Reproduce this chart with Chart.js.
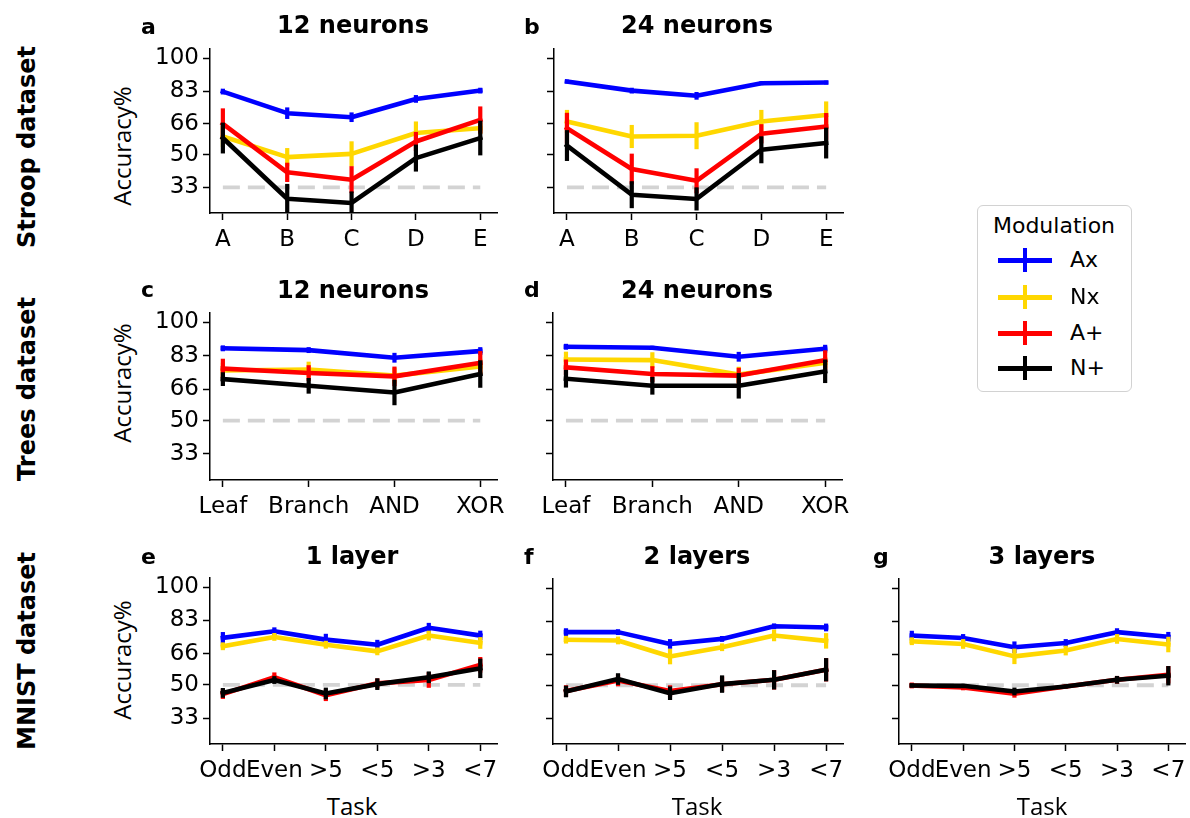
<!DOCTYPE html>
<html>
<head>
<meta charset="utf-8">
<script src="https://cdn.jsdelivr.net/npm/chart.js@4.4.1/dist/chart.umd.min.js"></script>
<style>
  html, body { margin: 0; padding: 0; background: #fff; width: 1190px; height: 818px; overflow: hidden; }
  #fig { position: relative; width: 1190px; height: 818px; }
  #fig canvas { position: absolute; }
  .txt { position: absolute; white-space: nowrap; line-height: 1; color: #000; }
  .c { transform: translate(-50%, -50%); }
  .l { transform: translate(0, -50%); }
  .rot { transform: translate(-50%, -50%) rotate(-90deg); }
  .row { font-family: "DejaVu Sans"; font-weight: bold; font-size: 24px; }
  .ylab, .xlab { font-family: "Open Sans"; font-size: 24px; }
  .title { font-family: "DejaVu Sans"; font-weight: bold; font-size: 24px; }
  .letter { font-family: "DejaVu Sans"; font-weight: bold; font-size: 22px; }
  #legend { position: absolute; left: 977px; top: 205px; width: 155px; height: 187px;
            border: 1.5px solid #d2d2d2; border-radius: 6px; box-sizing: border-box; background: #fff; }
  .leg { font-family: "DejaVu Sans"; font-size: 22px; }
  .sw { position: absolute; }
</style>
</head>
<body>
<div id="fig"></div>
<script>
// ---- categories and tick values ----
const stroopTasks = ['A', 'B', 'C', 'D', 'E'];
const treesTasks = ['Leaf', 'Branch', 'AND', 'XOR'];
const mnistTasks = ['Odd', 'Even', '>5', '<5', '>3', '<7'];
const accuracyTicks = [33, 50, 66, 83, 100];
const modulationNames = ['Ax', 'Nx', 'A+', 'N+'];
const modulationColors = ['#0000ff', '#ffd700', '#ff0000', '#000000'];

// ---- accuracy (%) per modulation: rows Ax, Nx, A+, N+ ----
const stroop12Mean = [
  [82.7, 71.5, 69.4, 78.9, 83.2],
  [59.4, 48.7, 50.4, 61.2, 63.7],
  [66.0, 40.8, 37.0, 56.8, 68.0],
  [58.6, 27.1, 24.9, 48.2, 58.6]
];
const stroop12Err = [
  [1.5, 3.0, 2.5, 2.0, 1.5],
  [5.5, 4.7, 6.5, 6.0, 3.0],
  [8.0, 5.0, 7.0, 5.0, 7.0],
  [8.0, 7.7, 6.0, 7.0, 9.0]
];
const stroop24Mean = [
  [87.9, 83.2, 80.5, 87.0, 87.4],
  [67.2, 59.4, 59.8, 67.2, 70.6],
  [63.7, 42.5, 36.4, 60.8, 64.6],
  [54.7, 29.2, 27.0, 52.5, 56.0]
];
const stroop24Err = [
  [1.0, 1.5, 2.0, 1.0, 1.0],
  [6.0, 6.0, 7.0, 6.0, 7.0],
  [8.0, 8.0, 6.5, 5.0, 7.0],
  [8.0, 7.0, 6.0, 7.0, 8.0]
];
const trees12Mean = [
  [86.8, 85.9, 82.0, 85.4],
  [75.5, 76.0, 72.9, 77.5],
  [76.5, 74.2, 72.5, 79.4],
  [71.1, 67.7, 64.3, 73.7]
];
const trees12Err = [
  [1.5, 1.5, 2.5, 2.0],
  [4.0, 4.0, 4.0, 4.0],
  [5.0, 4.0, 5.0, 6.0],
  [3.5, 4.0, 6.5, 7.0]
];
const trees24Mean = [
  [87.6, 87.1, 82.5, 86.6],
  [81.1, 80.8, 73.4, 79.4],
  [77.1, 73.7, 72.9, 80.8],
  [71.3, 67.7, 67.7, 75.1]
];
const trees24Err = [
  [1.5, 1.0, 2.5, 2.0],
  [4.0, 4.0, 4.0, 3.0],
  [4.0, 4.0, 4.0, 5.0],
  [4.5, 4.5, 6.5, 6.0]
];
const mnist1Mean = [
  [74.1, 77.5, 73.2, 70.6, 79.3, 75.3],
  [69.8, 74.6, 70.6, 67.2, 75.3, 71.5],
  [45.3, 53.9, 44.7, 50.8, 52.5, 60.3],
  [45.9, 52.5, 45.6, 50.4, 53.9, 58.5]
];
const mnist1Err = [
  [3.0, 2.0, 3.0, 2.5, 2.5, 2.5],
  [2.0, 2.0, 2.0, 2.0, 2.5, 3.0],
  [2.5, 2.5, 3.0, 2.5, 4.0, 4.0],
  [2.5, 2.0, 3.0, 3.0, 3.0, 5.0]
];
const mnist2Mean = [
  [77.4, 77.4, 71.3, 73.9, 80.4, 79.8],
  [73.5, 73.1, 64.8, 69.6, 75.7, 72.9],
  [47.0, 52.5, 47.0, 50.5, 52.8, 58.0],
  [46.8, 53.2, 45.9, 50.6, 52.8, 58.0]
];
const mnist2Err = [
  [2.0, 1.5, 2.5, 1.5, 1.5, 2.0],
  [2.0, 2.0, 4.0, 2.0, 3.0, 4.0],
  [3.0, 3.0, 3.0, 4.0, 5.0, 6.0],
  [3.0, 3.0, 3.5, 4.5, 5.0, 6.0]
];
const mnist3Mean = [
  [75.6, 74.4, 69.6, 71.8, 77.4, 75.0],
  [72.7, 71.3, 64.9, 67.9, 73.9, 71.0],
  [49.9, 48.9, 45.6, 49.4, 52.8, 55.4],
  [49.9, 49.7, 46.8, 49.4, 52.8, 54.9]
];
const mnist3Err = [
  [2.5, 2.0, 3.0, 2.0, 2.0, 2.5],
  [2.0, 2.5, 4.0, 2.5, 2.5, 4.0],
  [1.5, 1.5, 2.0, 1.0, 2.0, 4.5],
  [1.0, 1.0, 2.0, 1.0, 2.0, 5.0]
];

// chance level of each task family
const stroopChance = 33;
const treesChance = 50;
const mnistChance = 50;

// ---- layout ----
const Y_MIN = 19.7, Y_MAX = 104.8;
const YW = 60, XH = 44, PT = 14, PR = 26;

const panels = [
  { tasks: stroopTasks, mean: stroop12Mean, err: stroop12Err, chance: stroopChance, yLabels: true,  left: 210, right: 497, top: 49,  bottom: 213 },
  { tasks: stroopTasks, mean: stroop24Mean, err: stroop24Err, chance: stroopChance, yLabels: false, left: 554, right: 843, top: 49,  bottom: 213 },
  { tasks: treesTasks,  mean: trees12Mean,  err: trees12Err,  chance: treesChance,  yLabels: true,  left: 210, right: 497, top: 313, bottom: 480 },
  { tasks: treesTasks,  mean: trees24Mean,  err: trees24Err,  chance: treesChance,  yLabels: false, left: 553, right: 842, top: 313, bottom: 480 },
  { tasks: mnistTasks,  mean: mnist1Mean,   err: mnist1Err,   chance: mnistChance,  yLabels: true,  left: 210, right: 497, top: 578, bottom: 744 },
  { tasks: mnistTasks,  mean: mnist2Mean,   err: mnist2Err,   chance: mnistChance,  yLabels: false, left: 553, right: 843, top: 579, bottom: 744 },
  { tasks: mnistTasks,  mean: mnist3Mean,   err: mnist3Err,   chance: mnistChance,  yLabels: false, left: 899, right: 1185, top: 579, bottom: 744 }
];

// vertical error bars, drawn right after each series line
const errorBarPlugin = {
  id: 'errorBars',
  afterDatasetDraw(chart, args) {
    const ds = chart.data.datasets[args.index];
    if (!ds.errors) return;
    const { ctx, chartArea, scales } = chart;
    ctx.save();
    ctx.beginPath();
    ctx.rect(chartArea.left, chartArea.top - 2, chartArea.width + 2, chartArea.height + 2);
    ctx.clip();
    ctx.strokeStyle = ds.borderColor;
    ctx.lineWidth = 4.2;
    ctx.lineCap = 'butt';
    ds.data.forEach((p, i) => {
      const x = scales.x.getPixelForValue(p.x);
      ctx.beginPath();
      ctx.moveTo(x, scales.y.getPixelForValue(p.y - ds.errors[i]));
      ctx.lineTo(x, scales.y.getPixelForValue(p.y + ds.errors[i]));
      ctx.stroke();
    });
    ctx.restore();
  }
};

const fig = document.getElementById('fig');
const tickFont = { family: 'DejaVu Sans', size: 23 };

panels.forEach(p => {
  const n = p.tasks.length;
  const plotW = p.right - p.left;
  const plotH = p.bottom - p.top;
  const canvas = document.createElement('canvas');
  canvas.width = YW + plotW + PR;
  canvas.height = PT + plotH + XH;
  canvas.style.left = (p.left - YW) + 'px';
  canvas.style.top = (p.top - PT) + 'px';
  fig.appendChild(canvas);

  const datasets = [{
    data: [{ x: 0, y: p.chance }, { x: n - 1, y: p.chance }],
    borderColor: '#d3d3d3', borderWidth: 3.8, borderDash: [17, 8],
    pointRadius: 0, order: 10
  }];
  modulationNames.forEach((name, s) => {
    datasets.push({
      label: name,
      data: p.mean[s].map((v, i) => ({ x: i, y: v })),
      errors: p.err[s],
      borderColor: modulationColors[s],
      borderWidth: 4.6,
      borderJoinStyle: 'round',
      borderCapStyle: 'square',
      pointRadius: 0,
      tension: 0,
      order: 4 - s
    });
  });

  new Chart(canvas, {
    type: 'line',
    data: { datasets },
    plugins: [errorBarPlugin],
    options: {
      responsive: false,
      animation: false,
      events: [],
      layout: { padding: { top: PT, right: PR, left: 0, bottom: 0 } },
      plugins: { legend: { display: false }, tooltip: { enabled: false } },
      scales: {
        x: {
          type: 'linear',
          min: -0.05 * (n - 1),
          max: (n - 1) * 1.065,
          afterBuildTicks: s => { s.ticks = p.tasks.map((_, i) => ({ value: i })); },
          afterFit: s => { s.height = XH; s.paddingLeft = 0; s.paddingRight = 0; },
          ticks: {
            callback: v => p.tasks[v],
            font: tickFont, color: '#000', padding: 6,
            maxRotation: 0, minRotation: 0, autoSkip: false
          },
          grid: { drawOnChartArea: false, drawTicks: true, tickLength: 7, tickWidth: 1.5, tickColor: '#000' },
          border: { display: true, color: '#000', width: 1.5 }
        },
        y: {
          type: 'linear',
          min: Y_MIN,
          max: Y_MAX,
          afterBuildTicks: s => { s.ticks = accuracyTicks.map(v => ({ value: v })); },
          afterFit: s => { s.width = YW; s.paddingTop = 0; s.paddingBottom = 0; },
          ticks: {
            callback: v => p.yLabels ? String(v) : '',
            font: tickFont, color: '#000', padding: 4, autoSkip: false
          },
          grid: { drawOnChartArea: false, drawTicks: true, tickLength: 7, tickWidth: 1.5, tickColor: '#000' },
          border: { display: true, color: '#000', width: 1.5 }
        }
      }
    }
  });
});

// ---- text: row labels, axis labels, titles, panel letters ----
function addText(text, cls, x, y) {
  const d = document.createElement('div');
  d.className = 'txt ' + cls;
  d.style.left = x + 'px';
  d.style.top = y + 'px';
  d.textContent = text;
  fig.appendChild(d);
  return d;
}

addText('Stroop dataset', 'row rot', 27, 147);
addText('Trees dataset', 'row rot', 27, 389);
addText('MNIST dataset', 'row rot', 27, 651);

addText('Accuracy%', 'ylab rot', 122, 146);
addText('Accuracy%', 'ylab rot', 122, 383);
addText('Accuracy%', 'ylab rot', 122, 660);

addText('Task', 'xlab c', 352, 806);
addText('Task', 'xlab c', 697, 806);
addText('Task', 'xlab c', 1042, 806);

const panelTitles = ['12 neurons', '24 neurons', '12 neurons', '24 neurons', '1 layer', '2 layers', '3 layers'];
const titlePos = [[353, 25], [697, 25], [353, 290], [697, 290], [352, 556], [697, 556], [1042, 556]];
panelTitles.forEach((t, i) => addText(t, 'title c', titlePos[i][0], titlePos[i][1]));

const panelLetters = ['a', 'b', 'c', 'd', 'e', 'f', 'g'];
const letterPos = [[141, 27], [524, 27], [141, 290], [524, 290], [141, 557], [524, 557], [873, 557]];
panelLetters.forEach((t, i) => addText(t, 'letter l', letterPos[i][0], letterPos[i][1]));

// ---- legend ----
const legend = document.createElement('div');
legend.id = 'legend';
fig.appendChild(legend);
addText('Modulation', 'leg c', 1054, 226);
const legendRows = [260, 297, 333, 368];
modulationNames.forEach((name, s) => {
  const yc = legendRows[s];
  const h = document.createElement('div');
  h.className = 'sw';
  Object.assign(h.style, { left: '998px', top: (yc - 2) + 'px', width: '54px', height: '4.6px', background: modulationColors[s] });
  fig.appendChild(h);
  const v = document.createElement('div');
  v.className = 'sw';
  Object.assign(v.style, { left: '1023px', top: (yc - 12) + 'px', width: '4.2px', height: '24px', background: modulationColors[s] });
  fig.appendChild(v);
  addText(name, 'leg l', 1070, yc);
});
</script>
</body>
</html>
